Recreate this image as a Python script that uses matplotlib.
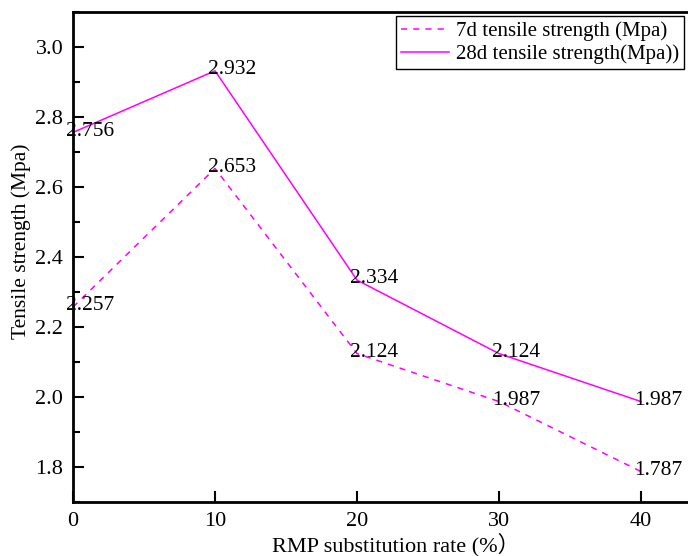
import numpy as np
import matplotlib
matplotlib.use('Agg')
import matplotlib.pyplot as plt
from matplotlib.ticker import MultipleLocator, FormatStrFormatter

# Data
vecRate = [0, 10, 20, 30, 40]
vec7d = [2.257, 2.653, 2.124, 1.987, 1.787]
vec28d = [2.756, 2.932, 2.334, 2.124, 1.987]
lstLbl7d = ['2.257', '2.653', '2.124', '1.987', '1.787']
lstLbl28d = ['2.756', '2.932', '2.334', '2.124', '1.987']
strLeg7d = '7d tensile strength (Mpa)'
strLeg28d = '28d tensile strength(Mpa))'

strFont = 'Liberation Serif'
plt.rcParams['font.family'] = [strFont, 'Noto Sans CJK TC']

fig01 = plt.figure(figsize=(6.88, 5.56), dpi=100)
axs = fig01.add_axes([73 / 688, 54 / 556, 615 / 688, 490 / 556])

clrMag = '#ff00ff'
axs.plot(vecRate, vec7d, linestyle=(0, (4, 4)), color=clrMag, lw=1.1,
         label=strLeg7d)
axs.plot(vecRate, vec28d, linestyle='-', color=clrMag, lw=1.1,
         label=strLeg28d)

# Data labels
for x, y, s in zip(vecRate, vec7d, lstLbl7d):
    axs.annotate(s, (x, y), xytext=(-5, 1), textcoords='offset points',
                 ha='left', va='center', fontsize=15.5)
for x, y, s in zip(vecRate, vec28d, lstLbl28d):
    axs.annotate(s, (x, y), xytext=(-5, 1), textcoords='offset points',
                 ha='left', va='center', fontsize=15.5)

axs.set_xlim(0, 615 / 14.2)
axs.set_ylim(1.7, 3.1)
axs.set_xticks([0, 10, 20, 30, 40])
axs.yaxis.set_major_locator(MultipleLocator(0.2))
axs.yaxis.set_minor_locator(MultipleLocator(0.1))
axs.yaxis.set_major_formatter(FormatStrFormatter('%.1f'))

axs.tick_params(axis='both', which='major', direction='in', length=8,
                width=1.5, labelsize=16, pad=7)
axs.tick_params(axis='y', which='minor', direction='in', length=5,
                width=1.5)
axs.tick_params(top=False, right=False)

for strSp in ['left', 'bottom', 'top']:
    axs.spines[strSp].set_linewidth(2.0)
axs.spines['right'].set_visible(False)

axs.set_xlabel('RMP substitution rate (%）', fontsize=16)
axs.set_ylabel('Tensile strength (Mpa)', fontsize=15.5)
axs.xaxis.set_label_coords(0.525, -0.063)
axs.yaxis.set_label_coords(-0.068, 0.533)

objLeg = axs.legend(loc='upper right', bbox_to_anchor=(1.0, 1.0),
                    fontsize=15, frameon=True, fancybox=False,
                    edgecolor='black', framealpha=1.0, borderpad=0.25,
                    labelspacing=0.15, handlelength=2.3, handletextpad=0.3,
                    borderaxespad=0.2)
objLeg.get_frame().set_linewidth(1.0)

fig01.savefig('out.png', dpi=100, facecolor='w')
